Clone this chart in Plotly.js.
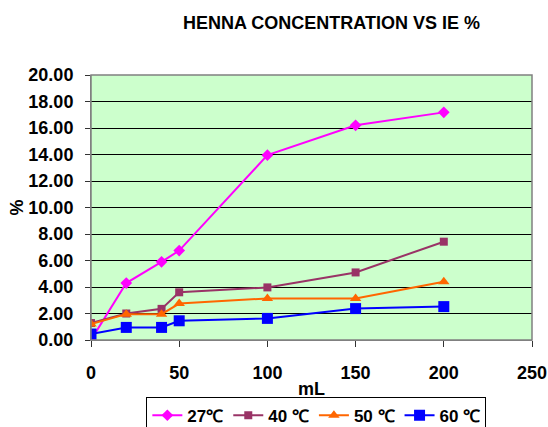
<!DOCTYPE html>
<html><head><meta charset="utf-8">
<script src="https://cdn.plot.ly/plotly-3.0.1.min.js"></script>
<style>body{margin:0;padding:0;background:#fff}#chart{width:548px;height:427px}</style>
</head><body><div id="chart"></div>
<script>
const conc = [0, 20, 40, 50, 100, 150, 200];
const ie27 = [0.0, 4.3, 5.9, 6.75, 13.95, 16.2, 17.18];
const ie40 = [1.28, 2.0, 2.35, 3.6, 3.97, 5.1, 7.42];
const ie50 = [1.2, 1.95, 1.95, 2.75, 3.14, 3.14, 4.4];
const ie60 = [0.45, 0.95, 0.95, 1.45, 1.63, 2.37, 2.52];
const names = ['27\u2103', '40 \u2103', '50 \u2103', '60 \u2103'];
const F = 'Liberation Sans, Arial, sans-serif';
const traces = [
  {x: conc, y: ie27, name: names[0], mode: 'lines+markers', line: {color: '#FF00FF', width: 2}, marker: {symbol: 'diamond', size: 9, color: '#FF00FF'}},
  {x: conc, y: ie40, name: names[1], mode: 'lines+markers', line: {color: '#993366', width: 2}, marker: {symbol: 'square', size: 8, color: '#993366'}},
  {x: conc, y: ie50, name: names[2], mode: 'lines+markers', line: {color: '#FF6600', width: 2}, marker: {symbol: 'triangle-up', size: 10, color: '#FF6600'}},
  {x: conc, y: ie60, name: names[3], mode: 'lines+markers', line: {color: '#0000FF', width: 2}, marker: {symbol: 'square', size: 11, color: '#0000FF'}}
];
const layout = {
  width: 548, height: 427,
  margin: {l: 91, r: 16, t: 75, b: 87, autoexpand: false},
  paper_bgcolor: '#FFFFFF', plot_bgcolor: '#CCFFCC',
  font: {family: F, color: '#000', size: 18, weight: 'bold'},
  title: {text: 'HENNA CONCENTRATION VS IE %', font: {family: F, size: 18, weight: 'bold'}, x: 0.605, xanchor: 'center', y: 0.948, yanchor: 'middle'},
  xaxis: {range: [0, 250], dtick: 50, tick0: 0, ticks: 'outside', ticklen: 6, tickcolor: '#333',
    showline: true, linecolor: '#808080', linewidth: 1, mirror: false, showgrid: false, zeroline: false,
    ticklabelstandoff: 10,
    tickfont: {family: F, size: 18, weight: 'bold'},
    title: {text: 'mL', font: {family: F, size: 18, weight: 'bold'}, standoff: 0}},
  yaxis: {range: [0, 20], dtick: 2, tick0: 0, tickformat: '.2f', ticks: 'outside', ticklen: 5, tickcolor: '#333',
    showline: true, linecolor: '#808080', linewidth: 1, showgrid: true, gridcolor: '#000', gridwidth: 1, zeroline: false,
    ticklabelstandoff: 8,
    tickfont: {family: F, size: 18, weight: 'bold'},
    title: {text: '%', font: {family: F, size: 18, weight: 'bold'}, standoff: 0}},
  shapes: [{type: 'rect', xref: 'paper', yref: 'paper', x0: 0, x1: 1, y0: 0, y1: 1, line: {color: '#808080', width: 1.5}}],
  showlegend: true,
  legend: {orientation: 'h', x: 0.511, xanchor: 'center', y: -0.214, yanchor: 'top', bordercolor: '#000', borderwidth: 1,
    font: {family: F, size: 17, weight: 'bold'}, itemwidth: 30, tracegroupgap: 0}
};
Plotly.newPlot('chart', traces, layout, {displayModeBar: false, staticPlot: true});
</script></body></html>
